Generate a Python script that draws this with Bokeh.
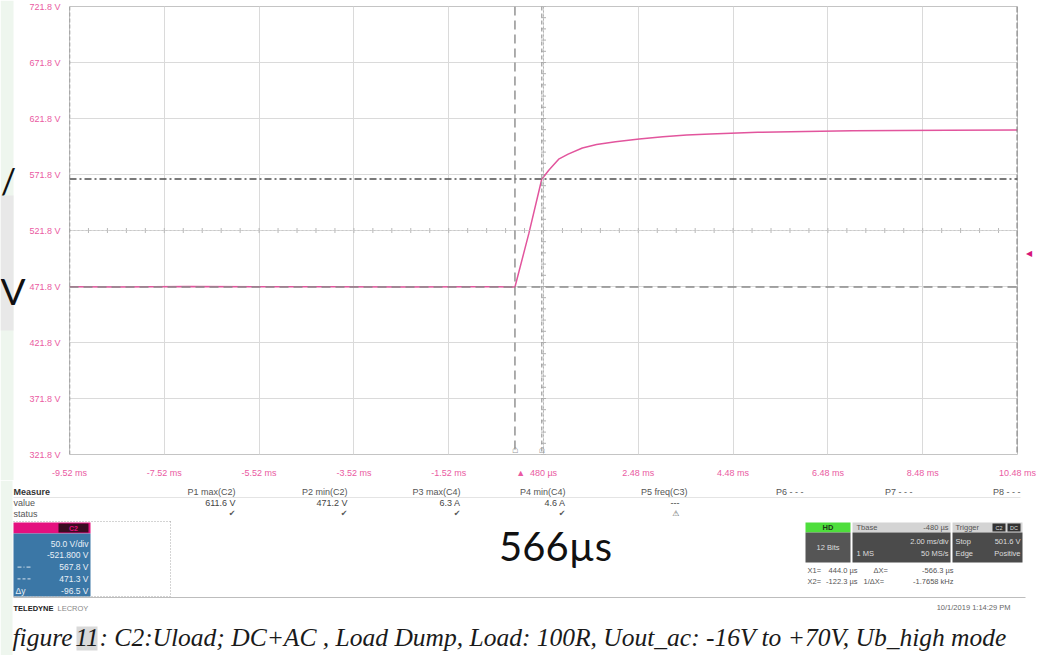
import numpy as np
from bokeh.plotting import figure
from bokeh.models import Range1d, FixedTicker, Span, Label, LinearAxis
from bokeh.layouts import column, row
from bokeh.embed import file_html
from bokeh.resources import INLINE
from bokeh.core.properties import value

# ---------------- data ----------------
time_ms = [-9.52, -8.5, -7.0, -5.5, -4.0, -2.5, -1.0, -0.5, -0.1223, 0.17, 0.444, 0.48,
           0.6, 0.8, 1.0, 1.3, 1.6, 2.0, 2.5, 3.0, 3.5, 4.0, 5.0, 6.0, 7.0, 8.0, 9.0, 10.48]
volts = [471.6, 471.4, 471.7, 471.5, 471.6, 471.4, 471.6, 471.5, 471.3, 519.0, 567.8, 569.5,
         576.0, 585.5, 590.0, 595.5, 598.5, 601.0, 603.5, 605.5, 607.0, 608.0, 609.5, 610.3,
         610.8, 611.1, 611.3, 611.6]

x_ticks = [-9.52, -7.52, -5.52, -3.52, -1.52, 0.48, 2.48, 4.48, 6.48, 8.48, 10.48]
x_tick_labels = ["-9.52 ms", "-7.52 ms", "-5.52 ms", "-3.52 ms", "-1.52 ms", "480 µs",
                 "2.48 ms", "4.48 ms", "6.48 ms", "8.48 ms", "10.48 ms"]
y_ticks = [321.8, 371.8, 421.8, 471.8, 521.8, 571.8, 621.8, 671.8, 721.8]
y_tick_labels = ["321.8 V", "371.8 V", "421.8 V", "471.8 V", "521.8 V", "571.8 V",
                 "621.8 V", "671.8 V", "721.8 V"]

cursor_x1 = 0.444      # ms
cursor_x2 = -0.1223    # ms
cursor_y1 = 567.8      # V
cursor_y2 = 471.3      # V
trigger_time = 0.0
trigger_level = 501.6

measure_names = ["P1 max(C2)", "P2 min(C2)", "P3 max(C4)", "P4 min(C4)", "P5 freq(C3)",
                 "P6 - - -", "P7 - - -", "P8 - - -"]
measure_values = ["611.6 V", "471.2 V", "6.3 A", "4.6 A", "---", "", "", ""]
measure_status = ["✔", "✔", "✔", "✔", "⚠", "", "", ""]

channel_lines = ["50.0 V/div", "-521.800 V", "567.8 V", "471.3 V", "-96.5 V"]

PINK = "#ea5aa2"
TRACE = "#e2559d"
UI = "Liberation Sans"

# ---------------- geometry ----------------
TOTAL_W = 1040
LEFT_W = 26
P_W, P_H = TOTAL_W - LEFT_W, 480
B_LEFT, B_TOP, B_BOTTOM = 39, 6, 22
B_RIGHT = P_W - B_LEFT - 952
Q_H = 175

# ---------------- left strip (slide fragments) ----------------
lf = figure(width=LEFT_W, height=P_H, x_range=Range1d(0, LEFT_W), y_range=Range1d(P_H, 0),
            output_backend="svg", toolbar_location=None, x_axis_location=None,
            y_axis_location=None, min_border=0)
lf.frame_align = False
lf.grid.visible = False
lf.outline_line_color = None
lf.quad(left=[0], right=[13], top=[0], bottom=[P_H], fill_color="#eef6ee", line_color=None)
lf.quad(left=[0], right=[13], top=[195], bottom=[330], fill_color="#e8e8e8", line_color=None)
lf.text(x=[8], y=[180], text=["/"], text_font=value("Lato"), text_font_size="34px",
        text_color="#111111", text_align="center", text_baseline="middle")
lf.text(x=[12.5], y=[290], text=["V"], text_font=value("Lato"), text_font_size="37px",
        text_color="#111111", text_align="center", text_baseline="middle")

# ---------------- scope figure ----------------
p = figure(width=P_W, height=P_H, x_range=Range1d(x_ticks[0], x_ticks[-1]),
           y_range=Range1d(y_ticks[0], y_ticks[-1]), output_backend="svg",
           toolbar_location=None, min_border_left=B_LEFT, min_border_right=B_RIGHT,
           min_border_top=B_TOP, min_border_bottom=B_BOTTOM)
p.frame_align = False
p.background_fill_color = "white"
p.border_fill_color = "white"
p.outline_line_color = "#c4c4c4"

# bottom axis also carries the trigger-time marker; grid only on the divisions
x_axis_ticks = x_ticks + [trigger_time]
x_axis_labels = x_tick_labels + ["▲"]
for ax, ticks, labels, standoff in ((p.xaxis[0], x_axis_ticks, x_axis_labels, 7),
                                    (p.yaxis[0], y_ticks, y_tick_labels, 3)):
    ax.ticker = FixedTicker(ticks=ticks)
    ax.major_label_overrides = dict(zip(ticks, labels))
    ax.axis_line_color = None
    ax.major_tick_line_color = None
    ax.minor_tick_line_color = None
    ax.major_label_standoff = standoff
    ax.major_label_text_font = UI
    ax.major_label_text_font_size = "9px"
    ax.major_label_text_color = PINK

p.xgrid.ticker = FixedTicker(ticks=x_ticks)
p.xgrid.grid_line_color = "#dadada"
p.ygrid.grid_line_color = "#dadada"

# right axis: trigger level marker
trig_axis = LinearAxis(ticker=FixedTicker(ticks=[trigger_level]),
                       major_label_overrides={trigger_level: "◀"},
                       axis_line_color=None, major_tick_line_color=None,
                       minor_tick_line_color=None, major_label_standoff=2,
                       major_label_text_font_size="8px", major_label_text_color="#d6157a")
p.add_layout(trig_axis, "right")

# centre axes with small ticks
xc = (x_ticks[0] + x_ticks[-1]) / 2
yc = (y_ticks[0] + y_ticks[-1]) / 2
xdiv = x_ticks[1] - x_ticks[0]
ydiv = y_ticks[1] - y_ticks[0]
p.add_layout(Span(location=xc, dimension="height", line_color="#b5b5b5", line_dash="2 2"))
p.add_layout(Span(location=yc, dimension="width", line_color="#c8c8c8", line_dash="2 2"))
hx = np.arange(x_ticks[0], x_ticks[-1] + 1e-9, xdiv / 5)
vy = np.arange(y_ticks[0], y_ticks[-1] + 1e-9, ydiv / 5)
p.scatter(hx, [yc] * len(hx), marker="dash", angle=np.pi / 2, size=5, line_color="#b8b8b8")
p.scatter([xc] * len(vy), vy, marker="dash", size=5, line_color="#b0b0b0")

# frame edges
p.add_layout(Span(location=x_ticks[0], dimension="height", line_color="#8c8c8c",
                  line_dash="4 2", line_width=1.5))
p.add_layout(Span(location=x_ticks[-1], dimension="height", line_color="#7a7a7a",
                  line_dash="6 2", line_width=2))

# cursors
p.add_layout(Span(location=cursor_y2, dimension="width", line_color="#8a8a8a",
                  line_dash="9 5", line_width=1.4))
p.add_layout(Span(location=cursor_y1, dimension="width", line_color="#4d4d4d",
                  line_dash="7 3 2 3", line_width=1.7))
p.add_layout(Span(location=cursor_x2, dimension="height", line_color="#8a8a8a",
                  line_dash="9 5", line_width=1.4))
p.add_layout(Span(location=cursor_x1, dimension="height", line_color="#9a9a9a",
                  line_dash="4 3", line_width=1.2))

# trace
p.line(time_ms, volts, line_color=TRACE, line_width=1.5)

# cursor icons at bottom of vertical cursors
for cx in (cursor_x2, cursor_x1):
    p.add_layout(Label(x=cx, y=y_ticks[0], y_offset=6, text="⌂", text_font_size="11px",
                       text_color="#999999", text_align="center", text_baseline="middle"))

# ---------------- info panel (pixel layout coordinates) ----------------
q = figure(width=TOTAL_W, height=Q_H, x_range=Range1d(0, TOTAL_W),
           y_range=Range1d(P_H + Q_H, P_H), output_backend="svg", toolbar_location=None,
           x_axis_location=None, y_axis_location=None, min_border=0)
q.frame_align = False
q.grid.visible = False
q.outline_line_color = None
q.background_fill_color = "white"
q.border_fill_color = "white"


def txt(x, y, s, size=9, color="#444444", align="left", font=UI, style="normal",
        baseline="middle"):
    q.text(x=[x], y=[y], text=[s], text_font=value(font), text_font_size=f"{size}px",
           text_color=color, text_align=align, text_baseline=baseline,
           text_font_style=style)


# left slide strip
q.quad(left=[0], right=[12], top=[P_H], bottom=[P_H + Q_H], fill_color="#eef6ee",
       line_color=None)

# measure table
txt(13, 491, "Measure", 9, "#333333", style="bold")
txt(13, 502, "value", 9, "#555555")
txt(13, 513, "status", 9, "#555555")
q.line([13, 1020], [497, 497], line_color="#e4e4e4")
col_right = [235, 347, 460, 565, 687, 803, 912, 1020]
for name, val, stat, xr in zip(measure_names, measure_values, measure_status, col_right):
    txt(xr, 491, name, 9, "#555555", "right")
    vx = xr if val != "---" else xr - 8
    if val:
        txt(vx, 502, val, 9, "#444444", "right")
    if stat:
        txt(vx, 513, stat, 8, "#555555", "right", font="DejaVu Sans")
q.line([13, 1025], [597, 597], line_color="#bdbdbd")

# channel descriptor
q.quad(left=[13], right=[90], top=[522], bottom=[533], fill_color="#e4107f", line_color=None)
q.quad(left=[58], right=[88], top=[523], bottom=[532], fill_color="#3a0b22", line_color=None)
txt(73, 527.5, "C2", 7, "#e4107f", "center", style="bold")
q.quad(left=[13], right=[90], top=[533], bottom=[596], fill_color="#3b77a6", line_color=None)
for i, s in enumerate(channel_lines):
    txt(88, 543 + i * 11.8, s, 8.5, "#e9f0f7", "right")
q.line([17, 30], [543 + 2 * 11.8] * 2, line_color="#d8e4ef", line_dash="4 2 1 2")
q.line([17, 30], [543 + 3 * 11.8] * 2, line_color="#d8e4ef", line_dash="3 2")
txt(15, 543 + 4 * 11.8, "Δy", 8.5, "#e9f0f7", "left")
q.multi_line(xs=[[13, 170], [170, 170], [13, 170]], ys=[[521, 521], [521, 596], [596, 596]],
             line_color="#a8a8a8", line_dash="1 2")

# big annotation text
txt(555, 545, "566µs", 40, "#111111", "center", font="Lato")

# acquisition panel
q.quad(left=[805], right=[850], top=[522], bottom=[532], fill_color="#4ede3c", line_color=None)
txt(827.5, 527, "HD", 7.5, "#1f3a1a", "center", style="bold")
q.quad(left=[805], right=[850], top=[532], bottom=[562], fill_color="#555555", line_color=None)
txt(827.5, 547, "12 Bits", 7.5, "#dddddd", "center")
q.quad(left=[852], right=[950], top=[522], bottom=[532], fill_color="#d4d4d4", line_color=None)
txt(856, 527, "Tbase", 7.5, "#555555")
txt(948, 527, "-480 µs", 7.5, "#555555", "right")
q.quad(left=[852], right=[950], top=[532], bottom=[562], fill_color="#4b4b4b", line_color=None)
txt(948, 541, "2.00 ms/div", 7.5, "#dddddd", "right")
txt(856, 553, "1 MS", 7.5, "#dddddd")
txt(948, 553, "50 MS/s", 7.5, "#dddddd", "right")
q.quad(left=[952], right=[1022], top=[522], bottom=[532], fill_color="#d4d4d4", line_color=None)
txt(955, 527, "Trigger", 7.5, "#555555")
q.quad(left=[992, 1007], right=[1005, 1020], top=[523, 523], bottom=[531, 531],
       fill_color="#333333", line_color=None)
txt(998.5, 527, "C2", 5.5, "#dddddd", "center")
txt(1013.5, 527, "DC", 5.5, "#dddddd", "center")
q.quad(left=[952], right=[1022], top=[532], bottom=[562], fill_color="#4b4b4b", line_color=None)
txt(955, 541, "Stop", 7.5, "#dddddd")
txt(1020, 541, "501.6 V", 7.5, "#dddddd", "right")
txt(955, 553, "Edge", 7.5, "#dddddd")
txt(1020, 553, "Positive", 7.5, "#dddddd", "right")

txt(807, 570, "X1=", 7.5, "#555555")
txt(857, 570, "444.0 µs", 7.5, "#555555", "right")
txt(873, 570, "ΔX=", 7.5, "#555555")
txt(953, 570, "-566.3 µs", 7.5, "#555555", "right")
txt(807, 581, "X2=", 7.5, "#555555")
txt(857, 581, "-122.3 µs", 7.5, "#555555", "right")
txt(863, 581, "1/ΔX=", 7.5, "#555555")
txt(953, 581, "-1.7658 kHz", 7.5, "#555555", "right")

# footer
txt(13, 608, "TELEDYNE", 7.5, "#222222", style="bold")
txt(57, 608, "LECROY", 7.5, "#888888")
txt(1010, 607, "10/1/2019 1:14:29 PM", 7.5, "#666666", "right")

# caption
q.quad(left=[76], right=[97], top=[626], bottom=[650], fill_color="#d9d9d9", line_color=None)
txt(12, 637, "figure", 25.5, "#1a1a1a", font="Liberation Serif", style="italic")
txt(86.5, 637, "11", 25.5, "#1a1a1a", "center", font="Liberation Serif", style="italic")
txt(99, 637, ":  C2:Uload; DC+AC , Load Dump, Load: 100R, Uout_ac: -16V to +70V, Ub_high mode",
    25.5, "#1a1a1a", font="Liberation Serif", style="italic")

layout = column(row(lf, p, spacing=0), q, spacing=0)
open("out.html", "w").write(file_html(layout, INLINE))
